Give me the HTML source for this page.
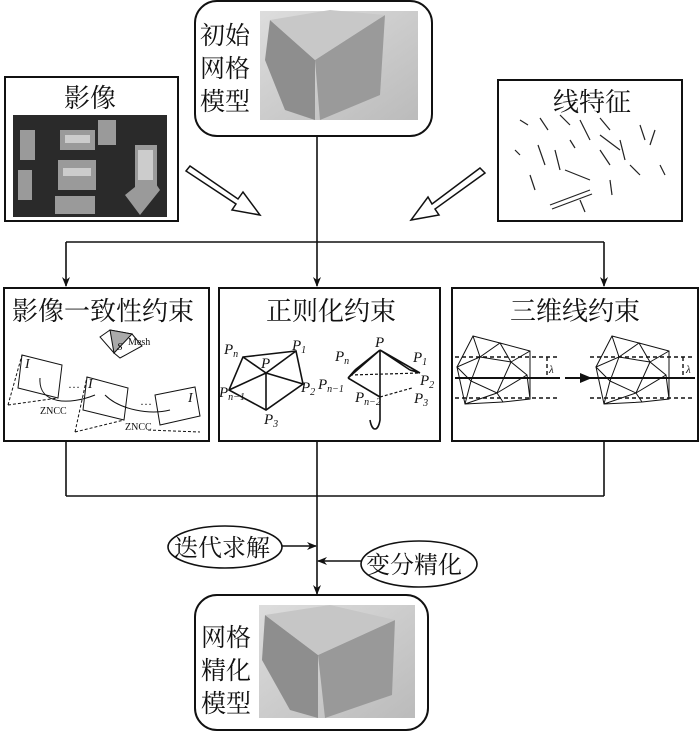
<!DOCTYPE html>
<html><head><meta charset="utf-8"><style>
html,body{margin:0;padding:0;background:#fff;}
svg{display:block;}
text{font-family:"Liberation Serif","Noto Serif CJK SC","Noto Sans CJK SC",serif;fill:#111;}
</style></head><body>
<svg width="700" height="731" viewBox="0 0 700 731" xmlns="http://www.w3.org/2000/svg">
<defs>
<marker id="ar" markerWidth="10" markerHeight="10" refX="9" refY="5" orient="auto" markerUnits="userSpaceOnUse"><path d="M0,1 L10,5 L0,9 L3,5 Z" fill="#111"/></marker>
<linearGradient id="mg" x1="0" y1="0" x2="1" y2="1"><stop offset="0" stop-color="#ddd"/><stop offset="1" stop-color="#bbb"/></linearGradient>
</defs>
<g stroke="#111" stroke-width="2" fill="none">
<rect x="195" y="1" width="237" height="135" rx="22"/>
<rect x="5" y="77" width="173" height="144"/>
<rect x="498" y="80" width="184" height="141"/>
<rect x="4" y="288" width="205" height="153"/>
<rect x="219" y="288" width="221" height="153"/>
<rect x="452" y="288" width="246" height="153"/>
<rect x="195" y="595" width="233" height="135" rx="22"/>
</g>
<g stroke="#111" stroke-width="1.6" fill="none">
<line x1="317" y1="136" x2="317" y2="286" marker-end="url(#ar)"/>
<line x1="66" y1="242" x2="604" y2="242"/>
<line x1="66" y1="242" x2="66" y2="286" marker-end="url(#ar)"/>
<line x1="604" y1="242" x2="604" y2="286" marker-end="url(#ar)"/>
<line x1="66" y1="441" x2="66" y2="496"/>
<line x1="317" y1="441" x2="317" y2="594" marker-end="url(#ar)"/>
<line x1="604" y1="441" x2="604" y2="496"/>
<line x1="66" y1="496" x2="604" y2="496"/>
<line x1="282" y1="546" x2="316" y2="546" marker-end="url(#ar)"/>
<line x1="361" y1="561" x2="318" y2="561" marker-end="url(#ar)"/>
<ellipse cx="225" cy="547" rx="57" ry="21"/>
<ellipse cx="419" cy="564" rx="58" ry="23"/>
</g>
<g stroke="#111" stroke-width="1.5" fill="#fff">
<polygon points="190,166 238,199 243,192 260,215 232,210 236,204 186,171"/>
<polygon points="480,168 432,204 428,197 411,220 439,215 435,209 485,173"/>
</g>
<rect x="13" y="115" width="154" height="102" fill="#2a2a2a"/>
<g fill="#9a9a9a">
<rect x="60" y="130" width="35" height="20"/><rect x="58" y="160" width="38" height="30"/><rect x="55" y="196" width="40" height="18"/>
<rect x="20" y="130" width="15" height="30"/><rect x="18" y="170" width="14" height="30"/><rect x="135" y="145" width="22" height="45"/>
<polygon points="125,195 150,175 160,190 140,215"/><rect x="98" y="120" width="18" height="25"/>
</g>
<g fill="#ccc"><rect x="65" y="135" width="25" height="8"/><rect x="63" y="168" width="28" height="8"/><rect x="138" y="150" width="15" height="30"/></g>
<g stroke="#222" stroke-width="1.2">
<line x1="520" y1="120" x2="528" y2="125"/><line x1="540" y1="118" x2="548" y2="130"/><line x1="560" y1="115" x2="570" y2="125"/><line x1="580" y1="120" x2="590" y2="140"/><line x1="600" y1="118" x2="610" y2="130"/><line x1="640" y1="125" x2="645" y2="140"/><line x1="655" y1="130" x2="650" y2="145"/>
<line x1="538" y1="145" x2="545" y2="165"/><line x1="555" y1="150" x2="560" y2="170"/><line x1="565" y1="170" x2="590" y2="180"/><line x1="550" y1="205" x2="590" y2="190"/><line x1="552" y1="209" x2="592" y2="194"/><line x1="530" y1="175" x2="535" y2="190"/><line x1="600" y1="150" x2="610" y2="165"/><line x1="620" y1="140" x2="625" y2="160"/><line x1="630" y1="165" x2="640" y2="175"/><line x1="660" y1="165" x2="665" y2="175"/><line x1="580" y1="200" x2="585" y2="212"/><line x1="610" y1="180" x2="612" y2="195"/><line x1="515" y1="150" x2="520" y2="155"/><line x1="600" y1="135" x2="620" y2="150"/><line x1="570" y1="140" x2="575" y2="148"/>
</g>
<rect x="260" y="11" width="158" height="109" fill="url(#mg)"/>
<polygon points="270,20 315,60 315,120 285,110 265,60" fill="#8e8e8e"/>
<polygon points="315,60 385,15 380,95 320,120" fill="#9a9a9a"/>
<polygon points="270,20 330,10 385,15 315,60" fill="#c8c8c8"/>
<rect x="259" y="605" width="156" height="113" fill="url(#mg)"/>
<polygon points="265,615 318,655 318,718 290,710 262,660" fill="#8e8e8e"/>
<polygon points="318,655 395,620 392,695 325,718" fill="#999"/>
<polygon points="265,615 330,605 395,620 318,655" fill="#c6c6c6"/>
<g font-size="25">
<text x="200" y="44">初始</text><text x="200" y="77">网格</text><text x="200" y="110">模型</text>
<text x="201" y="646">网格</text><text x="201" y="679">精化</text><text x="201" y="712">模型</text>
<text x="64" y="107" font-size="26">影像</text>
<text x="553" y="111" font-size="26">线特征</text>
<text x="12" y="320" font-size="26">影像一致性约束</text>
<text x="266" y="320" font-size="26">正则化约束</text>
<text x="510" y="320" font-size="26">三维线约束</text>
<text x="174" y="556" font-size="24">迭代求解</text>
<text x="366" y="573" font-size="24">变分精化</text>
</g>
<g stroke="#111" stroke-width="1" fill="none">
<polygon points="100,337 110,330 132,334 142,346 120,358 114,353" fill="#fff"/>
<polygon points="110,330 132,334 114,353" fill="#aaa"/>
<polygon points="22,355 62,365 58,398 18,388"/>
<polygon points="87,377 128,388 124,420 83,410"/>
<polygon points="155,395 195,387 200,416 160,425"/>
<path d="M8,405 L22,355 M8,405 L58,398 M75,432 L87,377 M75,432 L124,420 M148,430 L200,432" stroke-dasharray="3,2"/>
<path d="M40,378 C38,405 70,405 95,395" />
<path d="M170,410 C150,415 120,410 105,395"/>
</g>
<text x="128" y="345" font-size="10">Mesh</text><text x="117" y="350" font-size="11" font-style="italic">S</text>
<text x="25" y="368" font-size="14" font-style="italic">I</text><text x="88" y="388" font-size="14" font-style="italic">I</text><text x="188" y="402" font-size="14" font-style="italic">I</text>
<text x="68" y="388" font-size="12">…</text><text x="140" y="405" font-size="12">…</text>
<text x="40" y="414" font-size="10">ZNCC</text><text x="125" y="430" font-size="10">ZNCC</text>
<g stroke="#111" stroke-width="1.6" fill="none">
<polygon points="243,357 296,351 303,384 266,410 229,390" />
<path d="M243,357 L266,373 L296,351 M266,373 L303,384 M266,373 L266,410 M266,373 L229,390"/>
<path d="M380,350 L355,370 M380,350 L380,397 M380,350 L410,370 M380,350 L420,373 M380,350 L348,378 M355,370 L348,378 M348,378 L380,397 M410,370 L420,373"/>
<path d="M350,375 L420,373 M380,397 L412,388" stroke-dasharray="3,2" stroke-width="1.2"/>
<path d="M380,397 L380,420 C378,432 372,432 370,420"/>
</g>
<g font-size="15" font-style="italic">
<text x="224" y="354">P<tspan font-size="10" dy="3">n</tspan></text><text x="292" y="350">P<tspan font-size="10" dy="3">1</tspan></text>
<text x="261" y="368">P</text><text x="301" y="392">P<tspan font-size="10" dy="3">2</tspan></text>
<text x="219" y="397">P<tspan font-size="10" dy="3">n−1</tspan></text><text x="264" y="424">P<tspan font-size="10" dy="3">3</tspan></text>
<text x="375" y="347">P</text><text x="335" y="361">P<tspan font-size="10" dy="3">n</tspan></text>
<text x="413" y="362">P<tspan font-size="10" dy="3">1</tspan></text><text x="420" y="385">P<tspan font-size="10" dy="3">2</tspan></text>
<text x="318" y="389">P<tspan font-size="10" dy="3">n−1</tspan></text><text x="355" y="402">P<tspan font-size="10" dy="3">n−2</tspan></text>
<text x="414" y="403">P<tspan font-size="10" dy="3">3</tspan></text>
</g>
<g stroke="#111" stroke-width="1" fill="none">
<path d="M455,357 L560,357 M455,398 L560,398 M590,357 L695,357 M590,398 L695,398 M547,357 L547,378 M683,357 L683,378" stroke-dasharray="4,3" stroke-width="1.4"/>
<path d="M455,378 L560,378 M565,378 L695,378" stroke-width="2"/>
<path d="M473,336 L500,343 L530,351 L530,399 L503,402 L465,404 L457,367 Z M473,336 L480,357 L457,367 L471,381 L465,404 M480,357 L500,343 L511,362 L530,351 M480,357 L511,362 L527,375 L530,399 M471,381 L480,357 M471,381 L497,393 L511,362 M497,393 L503,402 M497,393 L465,404 M497,393 L527,375 M511,362 L500,343"/>
<path d="M612,336 L639,343 L669,351 L669,399 L642,402 L604,404 L596,367 Z M612,336 L619,357 L596,367 L610,381 L604,404 M619,357 L639,343 L650,362 L669,351 M619,357 L650,362 L666,375 L669,399 M610,381 L619,357 M610,381 L636,393 L650,362 M636,393 L642,402 M636,393 L604,404 M636,393 L666,375 M650,362 L639,343"/>
</g>
<polygon points="580,373 592,378 580,383" fill="#111"/>
<text x="549" y="373" font-size="11" font-style="italic">λ</text><text x="686" y="373" font-size="11" font-style="italic">λ</text>
</svg>
</body></html>
